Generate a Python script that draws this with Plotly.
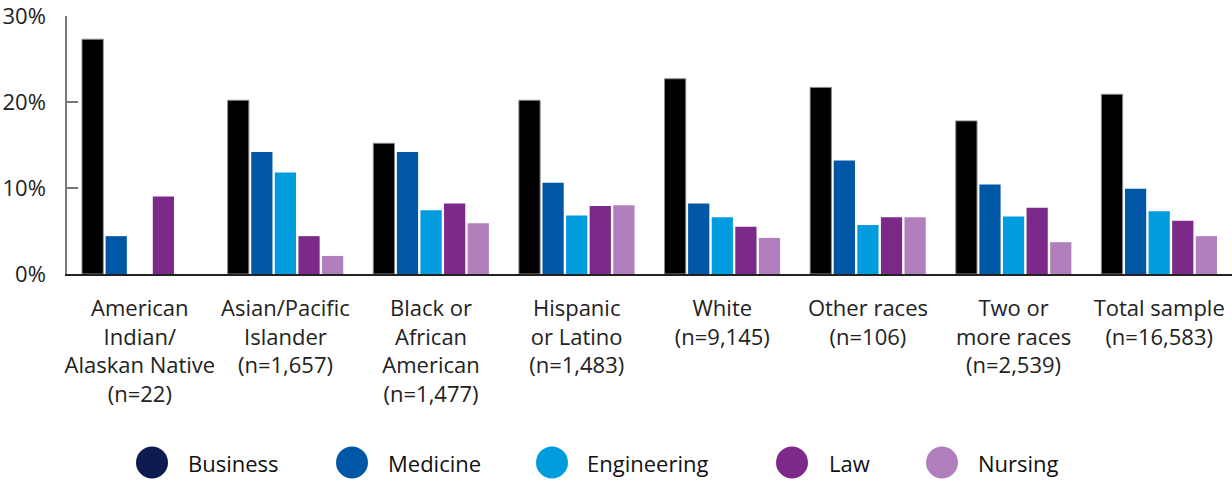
import plotly.graph_objects as go

# Share of respondents by intended field, per race/ethnicity group (percent)
categories = [
    "American<br>Indian/<br>Alaskan Native<br>(n=22)",
    "Asian/Pacific<br>Islander<br>(n=1,657)",
    "Black or<br>African<br>American<br>(n=1,477)",
    "Hispanic<br>or Latino<br>(n=1,483)",
    "White<br>(n=9,145)",
    "Other races<br>(n=106)",
    "Two or<br>more races<br>(n=2,539)",
    "Total sample<br>(n=16,583)",
]
business = [27.3, 20.2, 15.2, 20.2, 22.7, 21.7, 17.8, 20.9]
medicine = [4.4, 14.2, 14.2, 10.6, 8.2, 13.2, 10.4, 9.9]
engineering = [0.0, 11.8, 7.4, 6.8, 6.6, 5.7, 6.7, 7.3]
law = [9.0, 4.4, 8.2, 7.9, 5.5, 6.6, 7.7, 6.2]
nursing = [0.0, 2.1, 5.9, 8.0, 4.2, 6.6, 3.7, 4.4]

series_names = ["Business", "Medicine", "Engineering", "Law", "Nursing"]
bar_colors = ["#000000", "#0057A6", "#009CDE", "#7B2A8A", "#B07FBC"]
legend_colors = ["#0B1A4F", "#0057A6", "#009CDE", "#7B2A8A", "#B07FBC"]
y_ticks = [0, 10, 20, 30]

FONT = "'Open Sans', Lato, sans-serif"
W, H = 1232, 481
M_L, M_R, M_T, M_B = 67, 0, 14, 207

fig = go.Figure()
for name, vals, col in zip(series_names, [business, medicine, engineering, law, nursing], bar_colors):
    edge = dict(width=1, color="#8a8a8a") if name == "Business" else dict(width=0)
    fig.add_trace(go.Bar(
        x=categories, y=vals, name=name, marker=dict(color=col, line=edge),
        showlegend=False, hovertemplate="%{y}%<extra>" + name + "</extra>",
    ))

# Custom legend row with large circular swatches
plot_w = W - M_L - M_R
plot_h = H - M_T - M_B
def px_to_paper_x(px):
    return (px - M_L) / plot_w
def px_to_paper_y(py):
    return (H - M_B - py) / plot_h

legend_circle_x = [152, 352, 552, 792, 942]
legend_text_x = [186, 386, 585, 827, 976]
legend_y = 464
shapes = []
annotations = []
for name, col, cx, tx in zip(series_names, legend_colors, legend_circle_x, legend_text_x):
    shapes.append(dict(
        type="circle", xref="paper", yref="paper",
        xsizemode="pixel", ysizemode="pixel",
        xanchor=px_to_paper_x(cx), yanchor=px_to_paper_y(legend_y),
        x0=-16, x1=16, y0=-16, y1=16,
        fillcolor=col, line=dict(width=0),
    ))
    annotations.append(dict(
        text=name, xref="paper", yref="paper",
        x=px_to_paper_x(tx), y=px_to_paper_y(legend_y),
        xanchor="left", yanchor="middle", showarrow=False,
        font=dict(family=FONT, size=22, color="#111111"),
    ))

fig.update_layout(
    width=W, height=H,
    margin=dict(l=M_L, r=M_R, t=M_T, b=M_B, pad=0),
    paper_bgcolor="white", plot_bgcolor="white",
    barmode="group", bargap=0.19, bargroupgap=0.1,
    font=dict(family=FONT, size=20, color="#222222"),
    shapes=shapes, annotations=annotations,
    showlegend=False,
)
fig.update_xaxes(
    showline=True, linecolor="#222222", linewidth=1.5,
    showgrid=False, ticks="", tickfont=dict(size=22, color="#222222"),
    ticklabelstandoff=14,
    range=[-0.5, 7.5], fixedrange=True,
)
fig.update_yaxes(
    range=[0, 30], tickvals=y_ticks, ticktext=[f"{v}%" for v in y_ticks],
    showline=True, linecolor="#777777", linewidth=1.5,
    ticks="inside", ticklen=11, tickcolor="#777777", tickwidth=1.5,
    showgrid=False, zeroline=False, ticklabelstandoff=15,
    ticklabeloverflow="allow",
    tickfont=dict(size=22, color="#222222"),
)

fig.write_html("out.html")
